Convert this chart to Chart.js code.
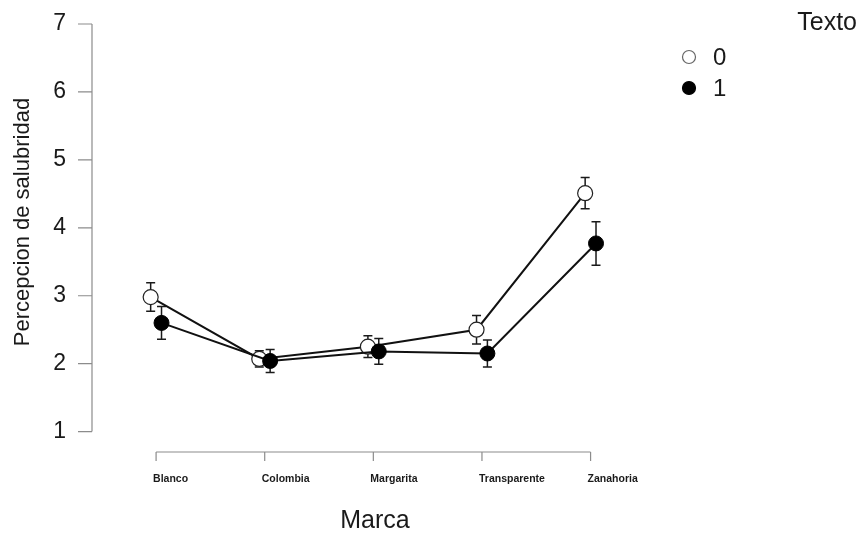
<!DOCTYPE html>
<html><head><meta charset="utf-8">
<script src="https://cdn.jsdelivr.net/npm/chart.js@4.4.0/dist/chart.umd.min.js"></script>
<style>html,body{margin:0;padding:0;background:#fff;}#wrap{width:859px;height:534px;}</style>
</head><body><div id="wrap"><canvas id="c" width="859" height="534"></canvas></div>
<script>
const categories = ['Blanco', 'Colombia', 'Margarita', 'Transparente', 'Zanahoria'];
const seriesNames = ['0', '1'];
const texto0 = [2.98, 2.07, 2.25, 2.50, 4.51];
const texto0Err = [0.21, 0.12, 0.16, 0.21, 0.23];
const texto1 = [2.60, 2.04, 2.18, 2.15, 3.77];
const texto1Err = [0.24, 0.17, 0.19, 0.20, 0.32];
const yTicks = [1, 2, 3, 4, 5, 6, 7];
const legendTitle = 'Texto';
const xTitle = 'Marca';
const yTitle = 'Percepcion de salubridad';
const dodge = 0.05;

const FONT = '"Liberation Sans", Arial, sans-serif';
const errs = [texto0Err, texto1Err];

const pts = (vals, off) => vals.map((v, i) => ({x: i + 1 + off, y: v}));

const decor = {
  id: 'decor',
  beforeDatasetsDraw(chart) {
    const ctx = chart.ctx, ys = chart.scales.y;
    ctx.save();
    ctx.strokeStyle = '#1a1a1a';
    ctx.lineWidth = 1.5;
    chart.data.datasets.forEach((ds, di) => {
      const meta = chart.getDatasetMeta(di);
      meta.data.forEach((p, i) => {
        const v = ds.data[i].y, e = errs[di][i];
        const y1 = ys.getPixelForValue(v + e), y2 = ys.getPixelForValue(v - e);
        ctx.beginPath();
        ctx.moveTo(p.x, y1); ctx.lineTo(p.x, y2);
        ctx.moveTo(p.x - 4.5, y1); ctx.lineTo(p.x + 4.5, y1);
        ctx.moveTo(p.x - 4.5, y2); ctx.lineTo(p.x + 4.5, y2);
        ctx.stroke();
      });
    });
    ctx.restore();
  },
  afterDraw(chart) {
    const ctx = chart.ctx, xs = chart.scales.x, ys = chart.scales.y, ca = chart.chartArea;
    ctx.save();
    // axes
    ctx.strokeStyle = '#8c8c8c';
    ctx.lineWidth = 1.2;
    const ax = ca.left;
    ctx.beginPath();
    ctx.moveTo(ax, ys.getPixelForValue(yTicks[0]));
    ctx.lineTo(ax, ys.getPixelForValue(yTicks[yTicks.length - 1]));
    yTicks.forEach(t => {
      const y = ys.getPixelForValue(t);
      ctx.moveTo(ax - 14, y); ctx.lineTo(ax, y);
    });
    const ay = ca.bottom;
    ctx.moveTo(xs.getPixelForValue(1), ay);
    ctx.lineTo(xs.getPixelForValue(categories.length), ay);
    categories.forEach((c, i) => {
      const x = xs.getPixelForValue(i + 1);
      ctx.moveTo(x, ay); ctx.lineTo(x, ay + 9);
    });
    ctx.stroke();
    // titles
    ctx.fillStyle = '#1a1a1a';
    ctx.font = '25px ' + FONT;
    ctx.textAlign = 'center';
    ctx.textBaseline = 'middle';
    ctx.fillText(xTitle, 375, 521);
    ctx.save();
    ctx.translate(23, 222);
    ctx.rotate(-Math.PI / 2);
    ctx.font = '22px ' + FONT;
    ctx.fillText(yTitle, 0, 0);
    ctx.restore();
    // legend
    ctx.font = '25px ' + FONT;
    ctx.textAlign = 'right';
    ctx.fillText(legendTitle, 857, 23);
    ctx.textAlign = 'left';
    const ly = [57, 88];
    chart.data.datasets.forEach((ds, di) => {
      ctx.beginPath();
      ctx.arc(689, ly[di], 6.5, 0, Math.PI * 2);
      ctx.fillStyle = ds.pointBackgroundColor;
      ctx.fill();
      ctx.strokeStyle = di === 0 ? '#666' : '#000';
      ctx.lineWidth = 1.2;
      ctx.stroke();
      ctx.fillStyle = '#1a1a1a';
      ctx.font = '24px ' + FONT;
      ctx.fillText(seriesNames[di], 713, ly[di] + 1);
    });
    ctx.restore();
  }
};

new Chart(document.getElementById('c'), {
  type: 'line',
  data: {
    datasets: [
      {label: seriesNames[0], data: pts(texto0, -dodge), order: 1,
       borderColor: '#111', borderWidth: 2, pointRadius: 7.5, pointBorderWidth: 1.2,
       pointBackgroundColor: '#ffffff', pointBorderColor: '#222', tension: 0},
      {label: seriesNames[1], data: pts(texto1, dodge), order: 0,
       borderColor: '#111', borderWidth: 2, pointRadius: 7.5, pointBorderWidth: 1,
       pointBackgroundColor: '#000000', pointBorderColor: '#000', tension: 0}
    ]
  },
  options: {
    responsive: false,
    devicePixelRatio: 1,
    animation: false,
    clip: false,
    layout: {padding: {top: 24, right: 175, bottom: 0, left: 0}},
    plugins: {legend: {display: false}, tooltip: {enabled: false}},
    scales: {
      x: {
        type: 'linear', min: 0.41, max: 5.86,
        grid: {display: false, drawTicks: false}, border: {display: false},
        afterBuildTicks: s => { s.ticks = categories.map((c, i) => ({value: i + 1})); },
        afterFit: s => { s.height = 82; },
        ticks: {
          callback: v => categories[v - 1], align: 'start', labelOffset: -3,
          padding: 21, color: '#1a1a1a', autoSkip: false, maxRotation: 0,
          font: {family: FONT, size: 10.5, weight: 'bold'}
        }
      },
      y: {
        type: 'linear', min: 0.7, max: 7,
        grid: {display: true, drawOnChartArea: false, drawTicks: true, tickLength: 26,
               color: 'rgba(0,0,0,0)'},
        border: {display: false},
        afterBuildTicks: s => { s.ticks = yTicks.map(v => ({value: v})); },
        afterFit: s => { s.width = 92; },
        ticks: {padding: 0, color: '#1a1a1a', font: {family: FONT, size: 23}}
      }
    }
  },
  plugins: [decor]
});
</script></body></html>
